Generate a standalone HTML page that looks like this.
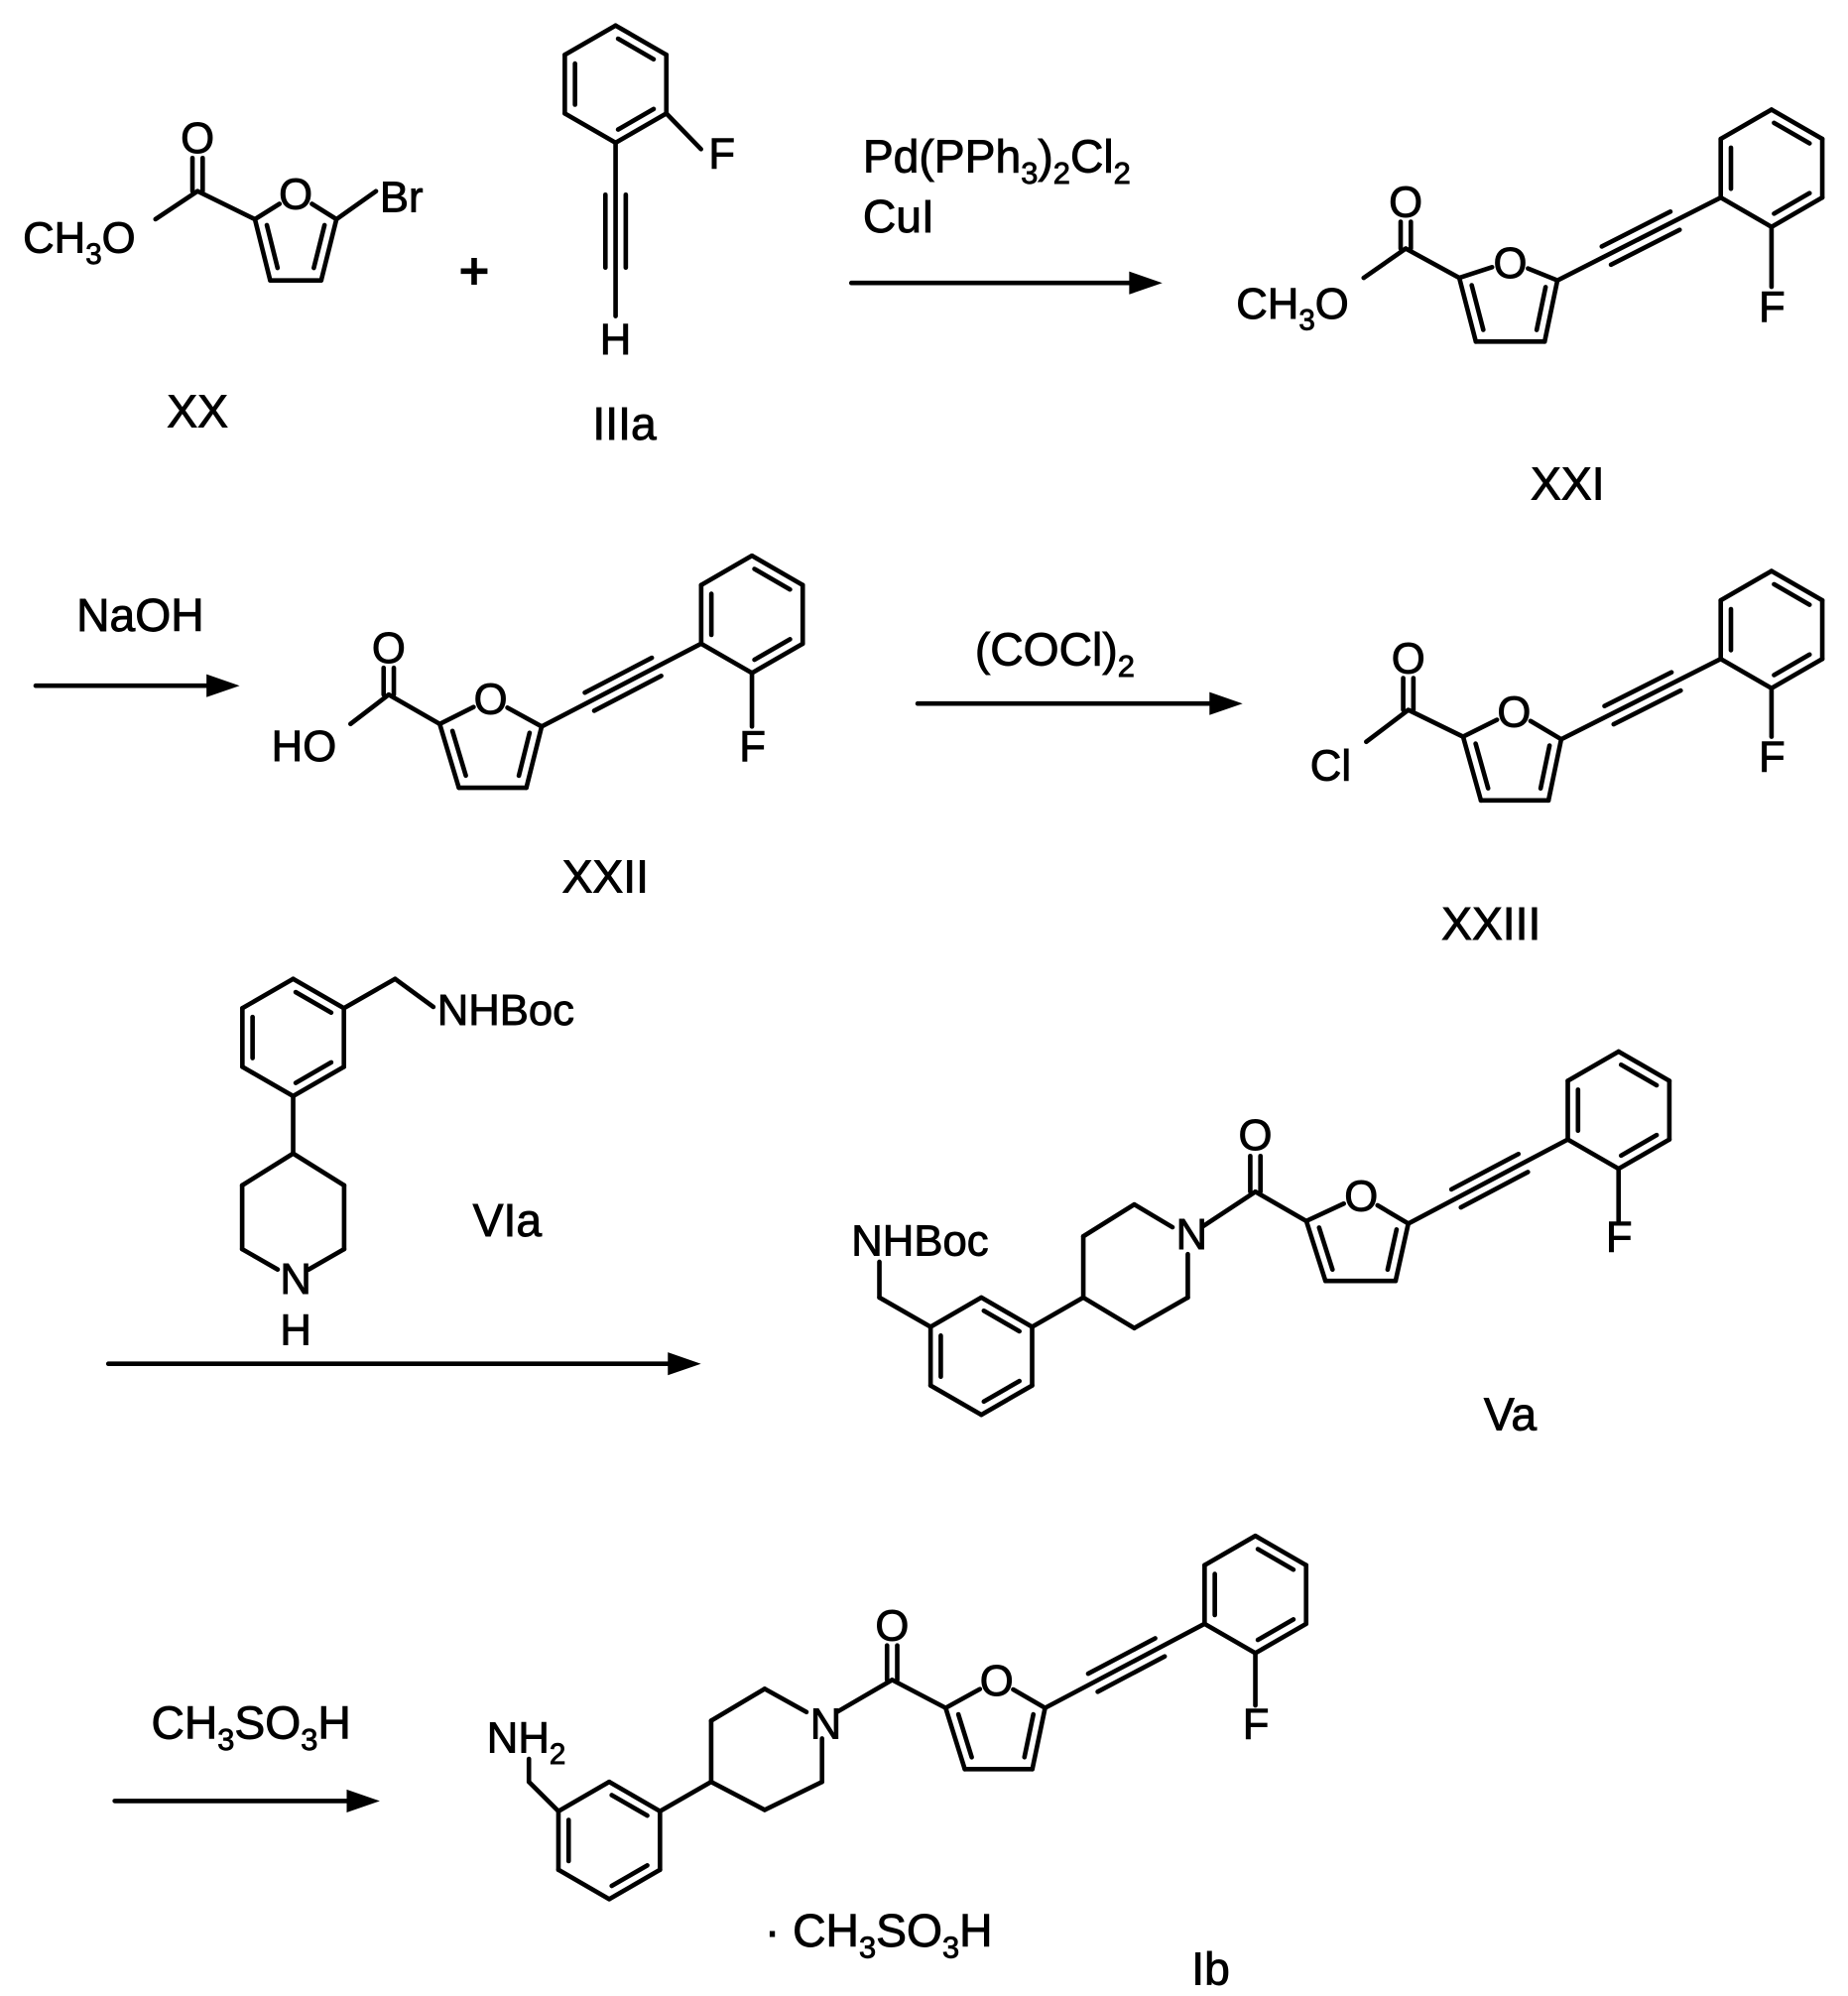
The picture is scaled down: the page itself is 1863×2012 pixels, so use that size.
<!DOCTYPE html>
<html><head><meta charset="utf-8"><style>
html,body{margin:0;padding:0;background:#fff;}
svg{display:block;}
text{font-family:"Liberation Sans",Arial,sans-serif;fill:#000;stroke:#000;stroke-width:0.7;}
</style></head><body>
<svg id="s" width="1863" height="2012" viewBox="0 0 1450 1566" xmlns="http://www.w3.org/2000/svg">
<rect width="1450" height="1566" fill="#fff"/>
<g id="g" stroke="#000" stroke-width="3.6" stroke-linecap="round" fill="none"></g>
<g font-size="34">
<!-- XX -->
<text x="155" y="120" text-anchor="middle">O</text>
<text x="18" y="198">CH<tspan font-size="23" dy="9">3</tspan><tspan dy="-9">O</tspan></text>
<text x="232" y="164" text-anchor="middle">O</text>
<text x="298" y="166">Br</text>
<text x="372" y="226" text-anchor="middle" font-size="40" style="stroke-width:1.5">+</text>
<text x="155" y="335" text-anchor="middle" font-size="36">XX</text>
<!-- IIIa -->
<text x="556" y="132">F</text>
<text x="483" y="278" text-anchor="middle">H</text>
<text x="490" y="345" text-anchor="middle" font-size="36">IIIa</text>
<!-- reagents 1 -->
<text x="677" y="135" font-size="36">Pd(PPh<tspan font-size="24" dy="9">3</tspan><tspan dy="-9">)</tspan><tspan font-size="24" dy="9">2</tspan><tspan dy="-9">Cl</tspan><tspan font-size="24" dy="9">2</tspan></text>
<text x="677" y="182" font-size="36">CuI</text>
<!-- XXI -->
<text x="1103" y="170" text-anchor="middle">O</text>
<text x="970" y="250">CH<tspan font-size="23" dy="9">3</tspan><tspan dy="-9">O</tspan></text>
<text x="1185" y="218" text-anchor="middle">O</text>
<text x="1380" y="252">F</text>
<text x="1230" y="392" text-anchor="middle" font-size="36">XXI</text>
<!-- NaOH -->
<text x="110" y="495" text-anchor="middle" font-size="36">NaOH</text>
<!-- XXII -->
<text x="305" y="520" text-anchor="middle">O</text>
<text x="213" y="597">HO</text>
<text x="385" y="560" text-anchor="middle">O</text>
<text x="580" y="597">F</text>
<text x="475" y="700" text-anchor="middle" font-size="36">XXII</text>
<!-- (COCl)2 -->
<text x="765" y="522" font-size="36">(COCl)<tspan font-size="24" dy="9">2</tspan></text>
<!-- XXIII -->
<text x="1105" y="528" text-anchor="middle">O</text>
<text x="1028" y="612">Cl</text>
<text x="1188" y="570" text-anchor="middle">O</text>
<text x="1380" y="605">F</text>
<text x="1170" y="737" text-anchor="middle" font-size="36">XXIII</text>
<!-- VIa -->
<text x="343" y="804">NHBoc</text>
<text x="232" y="1015" text-anchor="middle">N</text>
<text x="232" y="1055" text-anchor="middle">H</text>
<text x="398" y="970" text-anchor="middle" font-size="36">VIa</text>
<!-- Va -->
<text x="668" y="985">NHBoc</text>
<text x="935" y="980" text-anchor="middle">N</text>
<text x="985" y="902" text-anchor="middle">O</text>
<text x="1068" y="950" text-anchor="middle">O</text>
<text x="1260" y="982">F</text>
<text x="1185" y="1122" text-anchor="middle" font-size="36">Va</text>
<!-- CH3SO3H -->
<text x="197" y="1364" text-anchor="middle" font-size="36">CH<tspan font-size="24" dy="9">3</tspan><tspan dy="-9">SO</tspan><tspan font-size="24" dy="9">3</tspan><tspan dy="-9">H</tspan></text>
<!-- Ib -->
<text x="382" y="1375">NH<tspan font-size="23" dy="9">2</tspan></text>
<text x="648" y="1364" text-anchor="middle">N</text>
<text x="700" y="1287" text-anchor="middle">O</text>
<text x="782" y="1330" text-anchor="middle">O</text>
<text x="975" y="1364">F</text>
<text x="600" y="1527" font-size="36">· CH<tspan font-size="24" dy="9">3</tspan><tspan dy="-9">SO</tspan><tspan font-size="24" dy="9">3</tspan><tspan dy="-9">H</tspan></text>
<text x="950" y="1557" text-anchor="middle" font-size="36">Ib</text>
</g>
</svg>
<script>
var g=document.getElementById('g'),NS='http://www.w3.org/2000/svg';
function ln(x1,y1,x2,y2,s1,s2){s1=s1||0;s2=s2||0;var dx=x2-x1,dy=y2-y1,d=Math.hypot(dx,dy),ux=dx/d,uy=dy/d;
var e=document.createElementNS(NS,'line');e.setAttribute('x1',x1+ux*s1);e.setAttribute('y1',y1+uy*s1);e.setAttribute('x2',x2-ux*s2);e.setAttribute('y2',y2-uy*s2);g.appendChild(e);}
function inner(a,b,c){var mx=(a[0]+b[0])/2,my=(a[1]+b[1])/2,vx=c[0]-mx,vy=c[1]-my,d=Math.hypot(vx,vy),o=8;
var ox=vx/d*o,oy=vy/d*o,dx=b[0]-a[0],dy=b[1]-a[1];
ln(a[0]+ox+dx*0.15,a[1]+oy+dy*0.15,b[0]+ox-dx*0.15,b[1]+oy-dy*0.15);}
function benz(cx,cy,r){var v=[];for(var i=0;i<6;i++){var a=(-90+60*i)*Math.PI/180;v.push([cx+r*Math.cos(a),cy+r*Math.sin(a)]);}
for(i=0;i<6;i++)ln(v[i][0],v[i][1],v[(i+1)%6][0],v[(i+1)%6][1]);
inner(v[0],v[1],[cx,cy]);inner(v[2],v[3],[cx,cy]);inner(v[4],v[5],[cx,cy]);return v;}
function furan(c2,o,c5,c4,c3){var c=[(c2[0]+o[0]+c5[0]+c4[0]+c3[0])/5,(c2[1]+o[1]+c5[1]+c4[1]+c3[1])/5];
ln(c2[0],c2[1],o[0],o[1],0,15);ln(o[0],o[1],c5[0],c5[1],15,0);ln(c5[0],c5[1],c4[0],c4[1]);ln(c4[0],c4[1],c3[0],c3[1]);ln(c3[0],c3[1],c2[0],c2[1]);
inner(c2,c3,c);inner(c5,c4,c);}
function dblc(x1,y1,x2,y2,s2){var dx=x2-x1,dy=y2-y1,d=Math.hypot(dx,dy),px=-dy/d*4,py=dx/d*4;ln(x1+px,y1+py,x2+px,y2+py,0,s2);ln(x1-px,y1-py,x2-px,y2-py,0,s2);}
function triple(x1,y1,x2,y2){ln(x1,y1,x2,y2);var dx=x2-x1,dy=y2-y1,d=Math.hypot(dx,dy),px=-dy/d*8,py=dx/d*8;
ln(x1+dx*0.3+px,y1+dy*0.3+py,x1+dx*0.72+px,y1+dy*0.72+py);ln(x1+dx*0.3-px,y1+dy*0.3-py,x1+dx*0.72-px,y1+dy*0.72-py);}
function arrow(x1,x2,y){ln(x1,y,x2-20,y);var p=document.createElementNS(NS,'polygon');p.setAttribute('points',(x2-26)+','+(y-9)+' '+x2+','+y+' '+(x2-26)+','+(y+9));p.setAttribute('fill','#000');p.setAttribute('stroke','none');g.appendChild(p);}
function fphenyl(cx,cy,alk,fy){var v=benz(cx,cy,46);ln(v[3][0],v[3][1],v[3][0],fy);triple(alk[0],alk[1],v[4][0],v[4][1]);}

dblc(155,150,155,108,16);ln(155,150,122,172);ln(155,150,200,172);
furan([200,172],[232,152],[264,172],[252,220],[212,220]);ln(264,172,295,150);
var v=benz(483,66,46);ln(v[2][0],v[2][1],550,117);triple(483,112,483,248);
arrow(668,912,222);
dblc(1103,195,1103,160,14);ln(1103,195,1070,218);ln(1103,195,1145,218);
furan([1145,218],[1185,205],[1222,220],[1212,268],[1158,268]);
fphenyl(1390,132,[1222,220],225);
arrow(28,188,538);
dblc(305,545,305,510,14);ln(305,545,275,568);ln(305,545,345,568);
furan([345,568],[385,548],[425,570],[413,618],[360,618]);
fphenyl(590,482,[425,570],570);
arrow(720,975,552);
dblc(1105,557,1105,518,14);ln(1105,557,1072,582);ln(1105,557,1148,578);
furan([1148,578],[1188,558],[1225,580],[1215,628],[1162,628]);
fphenyl(1390,494,[1225,580],578);
v=benz(230,814,46);ln(v[1][0],v[1][1],310,768);ln(310,768,340,790);ln(230,860,230,905);
ln(230,905,270,930);ln(270,930,270,980);ln(270,980,230,1003,0,14);ln(230,1003,190,980,14,0);ln(190,980,190,930);ln(190,930,230,905);
arrow(85,550,1070);
v=benz(770,1064,46);ln(v[5][0],v[5][1],690,1018);ln(690,1018,690,990);ln(v[1][0],v[1][1],850,1018);
ln(850,1018,850,970);ln(850,970,890,945);ln(890,945,932,970,0,14);ln(932,970,932,1018,14,0);ln(932,1018,890,1042);ln(890,1042,850,1018);
ln(932,970,985,935,14,0);dblc(985,935,985,893,14);ln(985,935,1025,958);
furan([1025,958],[1068,938],[1105,960],[1095,1005],[1040,1005]);
fphenyl(1270,871,[1105,960],958);
arrow(90,298,1413);
v=benz(478,1444,46);ln(v[5][0],v[5][1],415,1398);ln(415,1398,415,1380);ln(v[1][0],v[1][1],558,1398);
ln(558,1398,558,1350);ln(558,1350,600,1325);ln(600,1325,645,1350,0,14);ln(645,1350,645,1398,14,0);ln(645,1398,600,1420);ln(600,1420,558,1398);
ln(645,1350,700,1318,14,0);dblc(700,1318,700,1277,14);ln(700,1318,742,1340);
furan([742,1340],[782,1318],[820,1340],[810,1388],[757,1388]);
fphenyl(985,1251,[820,1340],1338);
</script>
</body></html>
